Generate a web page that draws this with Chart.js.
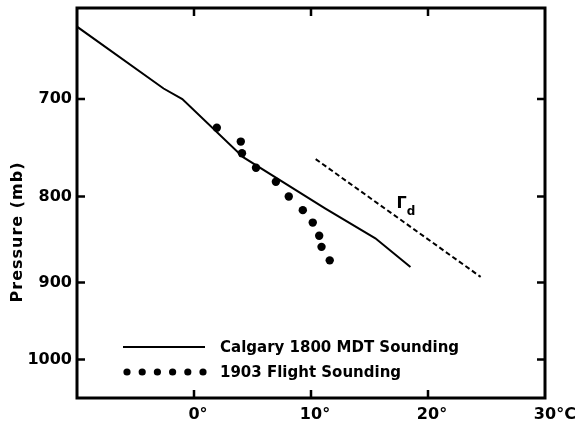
<!DOCTYPE html>
<html>
<head>
<meta charset="utf-8">
<script src="https://cdn.jsdelivr.net/npm/chart.js@4.4.1/dist/chart.umd.min.js"></script>
<style>
  html, body { margin: 0; padding: 0; background: #fff; }
  #wrap { width: 587px; height: 425px; }
</style>
</head>
<body>
<div id="wrap"><canvas id="c" width="587" height="425"></canvas></div>
<script>
// ---- data (temperature °C, pressure mb) ----
const calgaryTemp = [-10, -2.6, -1.0, 4.2, 11.2, 15.5, 18.5];
const calgaryPres = [634, 690, 700, 758, 813, 847, 881];

const flightTemp = [1.95, 4.0, 4.1, 5.3, 7.0, 8.1, 9.3, 10.15, 10.7, 10.9, 11.6];
const flightPres = [728, 742, 754, 769, 784, 800, 815, 829, 844, 857, 873];

const dryAdiabatTemp = [10.4, 24.5];
const dryAdiabatPres = [760, 893];

const xTickValues = [0, 10, 20, 30];
const xTickNumbers = ['0', '10', '20', '30'];
const xTickSuffixes = ['°', '°', '°', '°C'];
const yTickValues = [700, 800, 900, 1000];

const seriesLabels = ['Calgary 1800 MDT Sounding', '1903 Flight Sounding'];
const yTitle = 'Pressure (mb)';
const adiabatLabel = ['Γ', 'd'];
const adiabatLabelAt = [17.4, 805];

const toXY = (xs, ys) => xs.map((x, i) => ({ x: x, y: ys[i] }));

Chart.defaults.font.family = "'DejaVu Sans', sans-serif";
Chart.defaults.color = '#000';

const framePlugin = {
  id: 'framePlugin',
  afterDraw(chart) {
    const ctx = chart.ctx;
    const a = chart.chartArea;
    const xs = chart.scales.x, ys = chart.scales.y;
    ctx.save();
    ctx.strokeStyle = '#000';
    ctx.lineWidth = 3;
    ctx.strokeRect(a.left, a.top, a.right - a.left, a.bottom - a.top);
    // inward ticks
    ctx.lineWidth = 2.5;
    const tl = 8;
    xTickValues.forEach(v => {
      const px = xs.getPixelForValue(v);
      if (px > a.left + 2 && px < a.right - 2) {
        ctx.beginPath();
        ctx.moveTo(px, a.bottom); ctx.lineTo(px, a.bottom - tl);
        ctx.moveTo(px, a.top); ctx.lineTo(px, a.top + tl);
        ctx.stroke();
      }
    });
    yTickValues.forEach(v => {
      const py = ys.getPixelForValue(v);
      ctx.beginPath();
      ctx.moveTo(a.left, py); ctx.lineTo(a.left + tl, py);
      ctx.moveTo(a.right, py); ctx.lineTo(a.right - tl, py);
      ctx.stroke();
    });
    // x tick labels: number centred on the tick, suffix trailing
    ctx.fillStyle = '#000';
    ctx.font = "bold 16px 'DejaVu Sans'";
    ctx.textBaseline = 'alphabetic';
    ctx.textAlign = 'left';
    xTickValues.forEach((v, i) => {
      const px = xs.getPixelForValue(v);
      const w = ctx.measureText(xTickNumbers[i]).width;
      ctx.fillText(xTickNumbers[i] + xTickSuffixes[i], px - w / 2, a.bottom + 21);
    });
    // y title
    ctx.save();
    ctx.translate(18, 232);
    ctx.rotate(-Math.PI / 2);
    ctx.font = "bold 16px 'DejaVu Sans'";
    ctx.letterSpacing = '1px';
    ctx.textAlign = 'center';
    ctx.textBaseline = 'middle';
    ctx.fillText(yTitle, 0, 0);
    ctx.restore();
    // Γd label
    const lx = xs.getPixelForValue(adiabatLabelAt[0]);
    const ly = ys.getPixelForValue(adiabatLabelAt[1]);
    ctx.font = "bold 16px 'DejaVu Sans'";
    ctx.textAlign = 'left';
    ctx.fillText(adiabatLabel[0], lx - 1, ly + 7);
    const gw = ctx.measureText(adiabatLabel[0]).width;
    ctx.font = "bold 12px 'DejaVu Sans'";
    ctx.fillText(adiabatLabel[1], lx - 1 + gw, ly + 14);
    // legend
    const ds0 = chart.data.datasets[0], ds1 = chart.data.datasets[1];
    ctx.strokeStyle = ds0.borderColor;
    ctx.lineWidth = ds0.borderWidth;
    ctx.beginPath();
    ctx.moveTo(123, 347); ctx.lineTo(205, 347);
    ctx.stroke();
    ctx.fillStyle = ds1.pointBackgroundColor;
    for (let i = 0; i < 6; i++) {
      ctx.beginPath();
      ctx.arc(127 + i * 15.2, 372, 3.6, 0, Math.PI * 2);
      ctx.fill();
    }
    ctx.fillStyle = '#000';
    ctx.font = "bold 15px 'DejaVu Sans'";
    ctx.fillText(seriesLabels[0], 220, 352);
    ctx.fillText(seriesLabels[1], 220, 377);
    ctx.restore();
  }
};

new Chart(document.getElementById('c'), {
  type: 'scatter',
  data: {
    datasets: [
      {
        label: seriesLabels[0],
        data: toXY(calgaryTemp, calgaryPres),
        showLine: true,
        borderColor: '#000',
        borderWidth: 2,
        pointRadius: 0,
        tension: 0
      },
      {
        label: seriesLabels[1],
        data: toXY(flightTemp, flightPres),
        showLine: false,
        pointRadius: 4.2,
        pointBackgroundColor: '#000',
        pointBorderColor: '#000',
        pointBorderWidth: 0
      },
      {
        label: 'Γd',
        data: toXY(dryAdiabatTemp, dryAdiabatPres),
        showLine: true,
        borderColor: '#000',
        borderWidth: 2,
        borderDash: [5, 3],
        pointRadius: 0
      }
    ]
  },
  options: {
    responsive: false,
    animation: false,
    devicePixelRatio: 1,
    layout: { padding: { top: 8, right: 42, left: 0, bottom: 0 } },
    plugins: { legend: { display: false }, tooltip: { enabled: false } },
    scales: {
      x: {
        type: 'linear',
        min: -10, max: 30,
        grid: { display: false, drawTicks: false },
        border: { display: false },
        ticks: { display: false },
        afterFit(s) { s.height = 27; s.paddingLeft = 0; s.paddingRight = 0; }
      },
      y: {
        type: 'logarithmic',
        reverse: true,
        min: 618, max: 1054,
        grid: { display: false, drawTicks: false },
        border: { display: false },
        afterBuildTicks(s) { s.ticks = yTickValues.map(v => ({ value: v })); },
        ticks: {
          padding: 5,
          font: { size: 16, weight: 'bold' },
          color: '#000',
          callback: v => String(v)
        },
        afterFit(s) { s.width = 77; s.paddingTop = 0; s.paddingBottom = 0; }
      }
    }
  },
  plugins: [framePlugin]
});
</script>
</body>
</html>
